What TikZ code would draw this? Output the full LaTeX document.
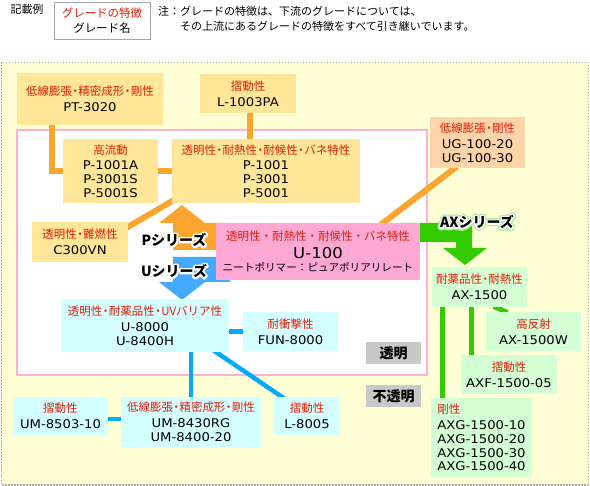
\documentclass[tikz,border=0pt]{standalone}
\usepackage{fontspec}
\usetikzlibrary{calc}
\newfontfamily\jp{Noto Sans CJK JP}
\newfontfamily\lat[FakeStretch=1.1]{DejaVu Sans}
\definecolor{txred}{RGB}{226,30,10}
\definecolor{orbox}{HTML}{FFE699}
\definecolor{orline}{HTML}{F9A52E}
\definecolor{pkbox}{HTML}{FFA8D4}
\definecolor{pkline}{HTML}{FFB0D8}
\definecolor{ugbox}{HTML}{FFD4A8}
\definecolor{cybox}{HTML}{D4FFFF}
\definecolor{bline}{HTML}{00AAFF}
\definecolor{barrow}{HTML}{44AAFF}
\definecolor{gnbox}{HTML}{D4FFD4}
\definecolor{gnline}{HTML}{33CC00}
\definecolor{gnglow}{HTML}{A8F0A0}
\definecolor{yelbg}{HTML}{FFFFD6}
\definecolor{graylbl}{HTML}{C8C8C8}
\definecolor{dotgray}{HTML}{AAAAAA}
\newcommand\dt{\hspace{-0.22em}・\hspace{-0.22em}}
\newcommand\rl[1]{{\color{txred}\jp\fontsize{11.5}{13.8}\selectfont #1}}
\newcommand\jb[1]{{\jp\fontsize{11.5}{13.8}\selectfont #1}}
% outlined copy of a text drawn behind it: #1 colour, #2 stroke width, #3 text
\newcommand\outl[3]{\rlap{\color{#1}\special{pdf:literal direct #2 w 1 j 1 J 2 Tr}#3\special{pdf:literal direct 0 Tr}}}
\pgfdeclarelayer{back}
\pgfdeclarelayer{lines}
\pgfsetlayers{back,lines,main}
\tikzset{
 box/.style={inner sep=0pt, align=center, font=\lat\fontsize{12}{13.8}\selectfont},
 orb/.style={box, fill=orbox},
 cyb/.style={box, fill=cybox},
 gnb/.style={box, fill=gnbox},
 grb/.style={inner sep=0pt, fill=graylbl, font=\jp\bfseries\fontsize{14}{14}\selectfont},
 serlbl/.style={inner sep=0pt, font=\jp\bfseries\fontsize{14}{14}\selectfont},
 ol/.style={draw=orline, line width=6pt},
 bl/.style={draw=bline, line width=4.5pt},
 gl/.style={draw=gnline, line width=5pt},
}
\begin{document}
\begin{tikzpicture}[x=1pt,y=-1pt]
\useasboundingbox (0,0) rectangle (590,486);
\begin{pgfonlayer}{back}
\fill[white] (0,0) rectangle (590,486);
\draw[dotgray, line width=1.5pt, dash pattern=on 1.5pt off 1.5pt, fill=yelbg] (1.5,62.5) rectangle (588.5,485);
\draw[pkline, line width=2pt, fill=white] (17,130) rectangle (427,375);
\end{pgfonlayer}

% legend
\node[inner sep=0pt, font=\jp\fontsize{11}{11}\selectfont] (KR) at (27,9) {記載例};
\node[box, draw=gray!70, fill=white, minimum width=96pt, minimum height=37pt] (LG) at (102,20.5) {\rl{グレードの特徴}\\[1pt]\jb{グレード名}};
\node[inner sep=0pt, anchor=west, font=\jp\fontsize{11}{11}\selectfont] (NT1) at (158,11) {注：グレードの特徴は、下流のグレードについては、};
\node[inner sep=0pt, anchor=west, font=\jp\fontsize{11}{11}\selectfont] (NT2) at (180,26) {その上流にあるグレードの特徴をすべて引き継いでいます。};

% boxes
\node[orb, minimum width=146pt, minimum height=52pt] (PT) at (90,99) {\rl{低線膨張\dt 精密成形\dt 剛性}\\[2pt]PT-3020};
\node[orb, minimum width=96pt, minimum height=39pt] (L1) at (248,93.5) {\rl{摺動性}\\[2pt]L-1003PA};
\node[orb, minimum width=95pt, minimum height=64pt] (HF) at (110.5,171) {\rl{高流動}\\[2pt]P-1001A\\P-3001S\\P-5001S};
\node[orb, minimum width=188pt, minimum height=64pt] (PB) at (266,171) {\rl{透明性\dt 耐熱性\dt 耐候性\dt バネ特性}\\[2pt]P-1001\\P-3001\\P-5001};
\node[orb, minimum width=96pt, minimum height=40pt] (CV) at (80,242) {\rl{透明性\dt 難燃性}\\[2pt]C300VN};
\node[box, fill=ugbox, minimum width=95pt, minimum height=51pt] (UG) at (477.5,142.5) {\rl{低線膨張\dt 剛性}\\[2pt]UG-100-20\\UG-100-30};
\node[box, fill=pkbox, minimum width=204pt, minimum height=57pt] (U1) at (318,251.5) {\rl{透明性・耐熱性・耐候性・バネ特性}\\[4pt]{\fontsize{15}{15}\selectfont U-100}\\[0pt]{\jp\fontsize{10.6}{13}\selectfont ニートポリマー：ピュアポリアリレート}};
\node[cyb, minimum width=168pt, minimum height=53pt] (U8) at (145,325.5) {\rl{透明性\dt 耐薬品性\dt UVバリア性}\\[2pt]U-8000\\U-8400H};
\node[cyb, minimum width=95pt, minimum height=39pt] (FUN) at (290.5,331.5) {\rl{耐衝撃性}\\[2pt]FUN-8000};
\node[cyb, minimum width=95pt, minimum height=38pt] (UM85) at (60.5,416) {\rl{摺動性}\\[2pt]UM-8503-10};
\node[cyb, minimum width=140pt, minimum height=50pt] (UM84) at (191,422) {\rl{低線膨張\dt 精密成形\dt 剛性}\\[2pt]UM-8430RG\\UM-8400-20};
\node[cyb, minimum width=66pt, minimum height=38pt] (L85) at (307,416) {\rl{摺動性}\\[2pt]L-8005};
\node[gnb, minimum width=95pt, minimum height=40pt] (AX) at (479.5,287) {\rl{耐薬品性\dt 耐熱性}\\[2pt]AX-1500};
\node[gnb, minimum width=95pt, minimum height=39pt] (AXW) at (533.5,331.5) {\rl{高反射}\\[2pt]AX-1500W};
\node[gnb, minimum width=96pt, minimum height=39pt] (AXF) at (509,374.5) {\rl{摺動性}\\[2pt]AXF-1500-05};
\node[gnb, align=left, minimum width=101pt, minimum height=79pt] (AXG) at (481.5,437.5) {\rl{剛性}\\[2pt]AXG-1500-10\\AXG-1500-20\\AXG-1500-30\\AXG-1500-40};
\node[grb, minimum width=55pt, minimum height=22pt] (TM) at (393.5,353) {透明};
\node[grb, minimum width=55pt, minimum height=22pt] (FTM) at (393.5,396) {不透明};

% series labels
\node[serlbl] (PS) at (174,240) {\outl{white}{3.8}{Pシリーズ}Pシリーズ};
\node[serlbl] (US) at (174,271) {\outl{white}{3.8}{Uシリーズ}Uシリーズ};
\node[serlbl] (AXS) at (477,222) {\outl{gnglow}{5.4}{AXシリーズ}\outl{white}{2.8}{AXシリーズ}AXシリーズ};

\coordinate (g1) at ($(AXG.north west)+(12,0)$);
\coordinate (g2) at ($(AXF.north west)+(10.5,0)$);
\coordinate (l1) at ($(L1.south)+(2,0)$);

\begin{pgfonlayer}{lines}
% arrows
\fill[orline] (173,250) -- (173,223) -- (159,223) -- (182,205) -- (205,223) -- (230,223) -- (230,250) -- cycle;
\fill[barrow] (173,257) -- (230,257) -- (230,282) -- (205,282) -- (182,300) -- (159,282) -- (173,282) -- cycle;
\fill[gnline] (400,223) -- (472,223) -- (472,248) -- (487,248) -- (465,265) -- (443,248) -- (456,248) -- (456,242) -- (400,242) -- cycle;
% orange connectors
\draw[ol] ($(PT.south west)+(35,0)$) |- (HF.west);
\draw[ol] (l1) -- (l1 |- PB.north);
\draw[ol] (HF.east) -- (PB.west);
\draw[ol, shorten <=-4pt, shorten >=-4pt] ($(CV.north east)+(0,5)$) -- ($(PB.south west)+(0,-2)$);
\draw[ol, shorten <=-3pt, shorten >=-3pt] ($(UG.south west)+(25,0)$) -- ($(U1.north east)+(-37,0)$);
% blue connectors
\draw[bl] (U8.east |- FUN.west) -- (FUN.west);
\draw[bl] (UM84.north) -- (UM84.north |- U8.south);
\draw[bl, shorten <=-3pt, shorten >=-3pt] ($(U8.south east)+(-13,0)$) -- ($(L85.north west)+(8,0)$);
\draw[bl] ($(UM85.east)+(0,3)$) -- ($(UM85.east -| UM84.west)+(0,3)$);
% green connectors
\draw[gl] (g1) -- (g1 |- AX.south);
\draw[gl] (g2) -- (g2 |- AX.south);
\draw[gl, shorten <=-2pt, shorten >=-2pt] ($(AX.south)+(16,0)$) -- ($(AXW.north west)+(20,0)$);
\end{pgfonlayer}
\end{tikzpicture}
\end{document}
